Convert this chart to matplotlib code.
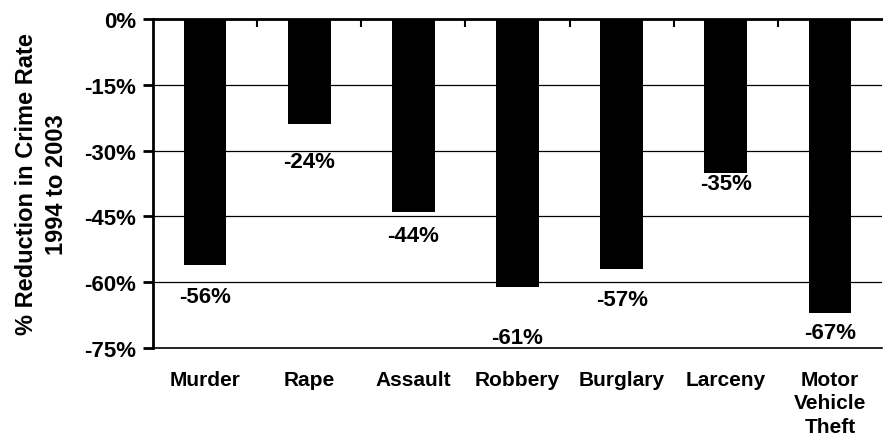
import numpy as np
import matplotlib.pyplot as plt
from matplotlib.ticker import FixedLocator

categories = ['Murder', 'Rape', 'Assault', 'Robbery', 'Burglary', 'Larceny',
              'Motor\nVehicle\nTheft']
change = [-56, -24, -44, -61, -57, -35, -67]
yticks = [0, -15, -30, -45, -60, -75]

# how far (in points) each value label sits below its bar
label_drop = [-23, -27, -17, -37, -22, -8, -14]

plt.rcParams['font.family'] = ['Liberation Sans', 'DejaVu Sans']
plt.rcParams['font.weight'] = 'bold'

fig = plt.figure(figsize=(8.83, 4.39), dpi=100)
ax = fig.add_axes([153 / 883, 1 - 349 / 439, 729 / 883, 329 / 439])

x = np.arange(len(categories))
ax.bar(x, change, width=0.41, color='black', zorder=3)

for xi, v, dy in zip(x, change, label_drop):
    ax.annotate('{}%'.format(v), (xi, v), xytext=(0, dy), textcoords='offset points',
                ha='center', va='center', fontsize=16, fontweight='bold')

ax.set_xlim(-0.5, len(categories) - 0.5)
ax.set_ylim(-75, 0)
ax.set_yticks(yticks)
ax.set_yticklabels(['{}%'.format(t) for t in yticks])
ax.yaxis.grid(True, color='black', linewidth=0.9)
ax.set_axisbelow(True)

ax.set_xticks(x)
ax.set_xticklabels(categories, fontsize=15, fontweight='bold', linespacing=1.28)
ax.xaxis.set_minor_locator(FixedLocator(np.arange(0.5, len(categories) - 1, 1.0)))
ax.tick_params(axis='x', which='major', length=0, pad=16)
ax.tick_params(axis='x', which='minor', top=True, bottom=False, direction='in',
               length=6, width=1.5)
ax.tick_params(axis='y', length=7, width=2, pad=5, labelsize=16)

ax.spines['right'].set_visible(False)
ax.spines['bottom'].set_linewidth(1.2)
for side in ['left', 'top']:
    ax.spines[side].set_linewidth(2)

ax.set_ylabel('% Reduction in Crime Rate\n1994 to 2003', fontsize=17,
              fontweight='bold', linespacing=1.4)
ax.yaxis.set_label_coords(-0.1166, 0.5)

fig.savefig('out.png', dpi=100)
